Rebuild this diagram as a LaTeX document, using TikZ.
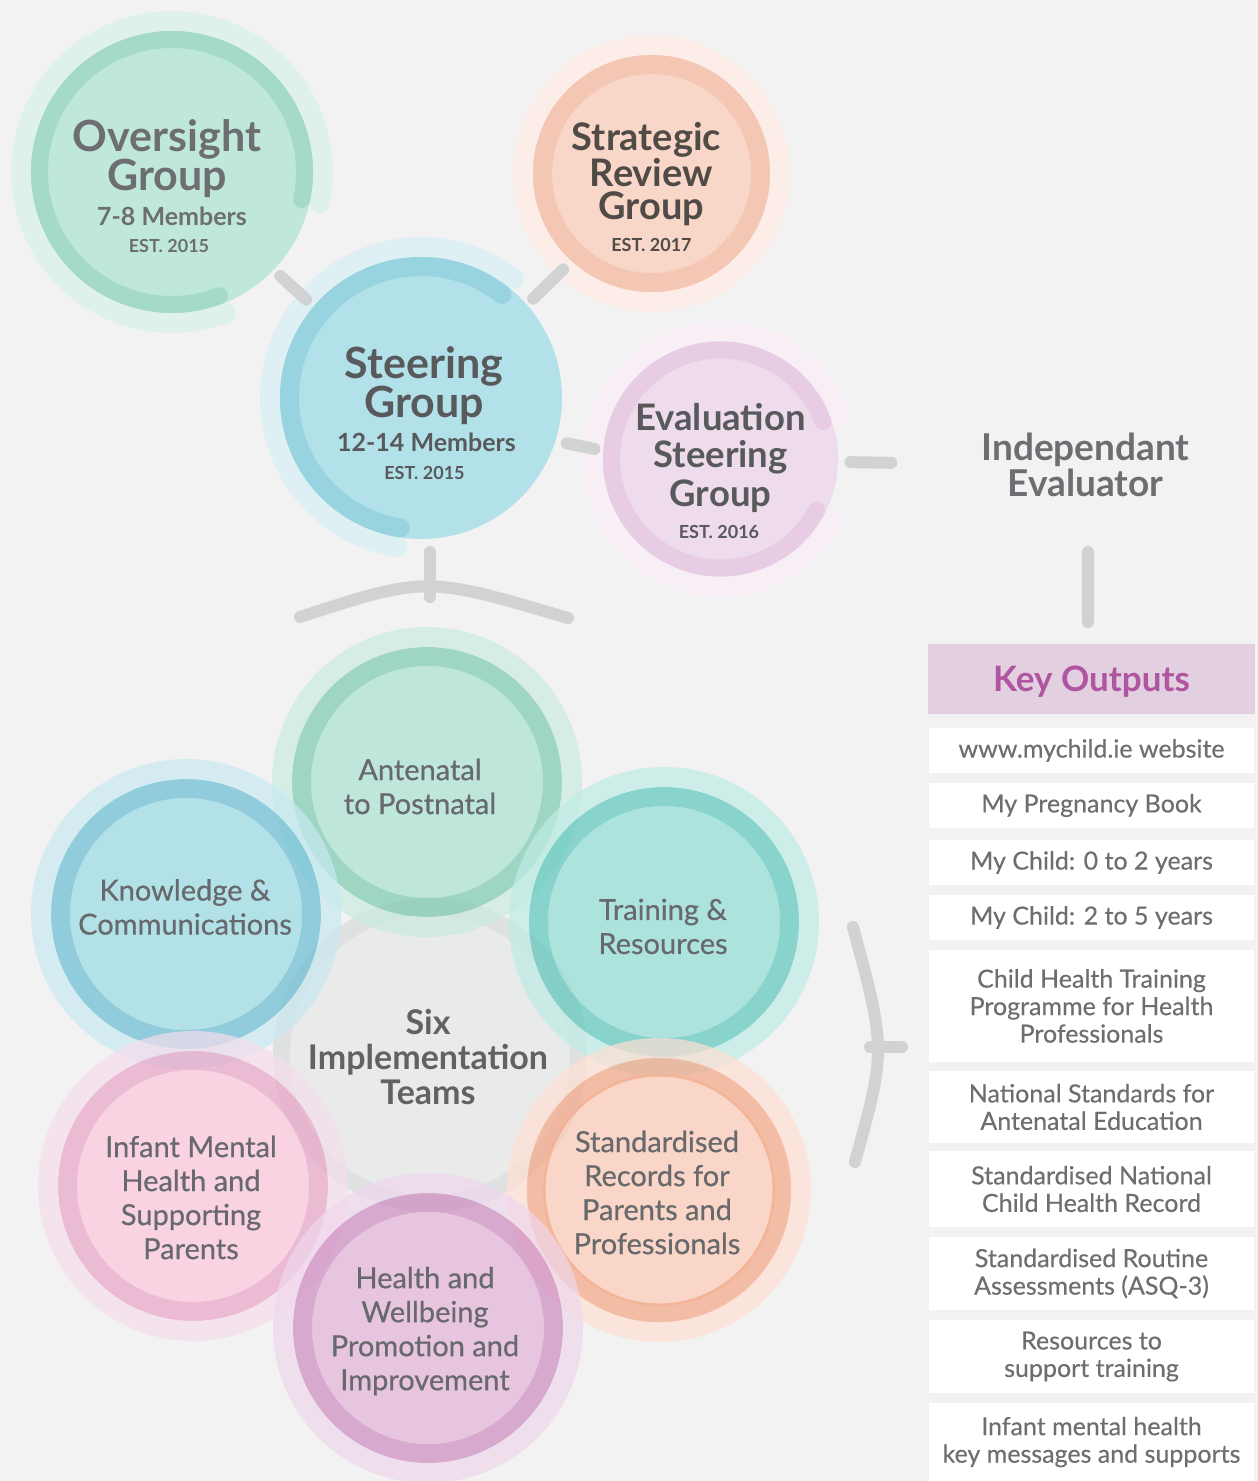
\documentclass[tikz,border=0pt]{standalone}
\usepackage{fontspec}
\setmainfont{Lato}
\newfontfamily\teamfont{Lato}[FakeBold=0.5]
\newfontfamily\listfont{Lato}[FakeBold=0.3]
\usetikzlibrary{positioning,calc,backgrounds}

% page and text colours
\definecolor{pagebg}{HTML}{F2F2F2}
\definecolor{linkgray}{HTML}{D1D2D4}
\definecolor{textgray}{HTML}{6D6E71}
\definecolor{teamText}{HTML}{68696C}
\definecolor{sixText}{HTML}{616264}
\definecolor{overText}{HTML}{6D6E71}
\definecolor{steerText}{HTML}{58595B}
\definecolor{stratText}{HTML}{514B48}
\definecolor{evalText}{HTML}{58595B}
\definecolor{keypurple}{HTML}{B0559F}
\definecolor{keyfill}{HTML}{E2CFE0}

% group circles
\definecolor{overHalo}{HTML}{DFF2EA}
\definecolor{overRing}{HTML}{A6DAC8}
\definecolor{overFill}{HTML}{C0E8DA}
\definecolor{stratHalo}{HTML}{FCEDE8}
\definecolor{stratRing}{HTML}{F4C6B4}
\definecolor{stratFill}{HTML}{F8D7C9}
\definecolor{steerHalo}{HTML}{DFF0F4}
\definecolor{steerRing}{HTML}{98D4E0}
\definecolor{steerFill}{HTML}{B2E1E9}
\definecolor{evalHalo}{HTML}{F7EFF5}
\definecolor{evalRing}{HTML}{E7CCE4}
\definecolor{evalFill}{HTML}{EEDBEC}

% team circles (drawn with opacity 0.7)
\definecolor{anteHalo}{HTML}{C9EBDF}
\definecolor{anteRing}{HTML}{7DCAB0}
\definecolor{anteFill}{HTML}{A8E1D0}
\definecolor{knowHalo}{HTML}{C7E9F1}
\definecolor{knowRing}{HTML}{69BDD3}
\definecolor{knowFill}{HTML}{97DBE5}
\definecolor{trainHalo}{HTML}{BDEBE5}
\definecolor{trainRing}{HTML}{5CC6BC}
\definecolor{trainFill}{HTML}{8FDDD5}
\definecolor{infHalo}{HTML}{F5DEEC}
\definecolor{infRing}{HTML}{E9A3C7}
\definecolor{infFill}{HTML}{FCC7DB}
\definecolor{recHalo}{HTML}{FFDFD4}
\definecolor{recRing}{HTML}{F3A685}
\definecolor{recFill}{HTML}{FCCBB5}
\definecolor{hlthHalo}{HTML}{EFD7EC}
\definecolor{hlthRing}{HTML}{CD8BC1}
\definecolor{hlthFill}{HTML}{E4B3D8}
\definecolor{sixHalo}{HTML}{D8DADB}
\definecolor{sixFill}{HTML}{E6E7E7}

\begin{document}
\begin{tikzpicture}[x=1pt, y=1pt,
    link/.style={draw=linkgray, line width=12pt, line cap=round},
    grp/.style={circle, inner sep=0pt, outer sep=0pt},
    grptitle/.style={font=\fontsize{#1}{#1}\selectfont\bfseries, text height=0pt, text depth=0pt, inner sep=0pt},
    grptitle/.default=42,
    halo/.style={line width=20pt, line cap=round},
    ringarc/.style={line width=#1, line cap=round},
    ringarc/.default=17pt,
    team/.style={circle, inner sep=0pt, outer sep=0pt, minimum size=232pt, fill opacity=0.7},
    teamtext/.style={text=teamText, text opacity=1, fill opacity=1, align=center, font=\teamfont\fontsize{29}{34}\selectfont},
    teamring/.style={line width=19pt, draw opacity=0.7},
    teamhalo/.style={line width=20pt, draw opacity=0.7},
    outbox/.style={rectangle, fill=white, minimum width=325pt, inner sep=0pt, outer sep=0pt, text=textgray, align=center, font=\listfont\fontsize{25}{27.5}\selectfont},
    node distance=10pt]

        \useasboundingbox (0,0) rectangle (1258,-1481);

        %-----Groups-----

        % Oversight Group
        \node[grp, fill=overFill, minimum size=282pt,
            label={[grptitle=43, text=overText, xshift=-5pt, yshift=20.5pt]center:Oversight},
            label={[grptitle=43, text=overText, xshift=-5pt, yshift=-18pt]center:Group},
            label={[grptitle=25, text=overText, yshift=-53pt]center:7-8 Members},
            label={[grptitle=18, text=overText, xshift=-3pt, yshift=-80pt]center:EST. 2015}] (over) at (172,-172) {};
        \draw[ringarc, draw=overRing] ([shift={(-12:132.5)}]over.center) arc[start angle=-12, end angle=291, radius=132.5pt];

        % Strategic Review Group
        \node[grp, fill=stratFill, minimum size=237pt,
            label={[grptitle=38, text=stratText, xshift=-5pt, yshift=23.5pt]center:Strategic},
            label={[grptitle=38, text=stratText, yshift=-12.5pt]center:Review},
            label={[grptitle=38, text=stratText, yshift=-46pt]center:Group},
            label={[grptitle=18, text=stratText, yshift=-78pt]center:EST. 2017}] (strat) at (651.5,-173.5) {};
        \draw[ringarc=19pt, draw=stratRing] (strat.center) circle[radius=109pt];

        % Steering Group
        \node[grp, fill=steerFill, minimum size=282pt,
            label={[grptitle=43, text=steerText, xshift=3pt, yshift=19.5pt]center:Steering},
            label={[grptitle=43, text=steerText, xshift=3pt, yshift=-19pt]center:Group},
            label={[grptitle=25, text=steerText, xshift=5.5pt, yshift=-53pt]center:12-14 Members},
            label={[grptitle=18, text=steerText, xshift=3.5pt, yshift=-81.3pt]center:EST. 2015}] (steer) at (421,-398) {};
        \draw[ringarc=19pt, draw=steerRing] ([shift={(52:131.5)}]steer.center) arc[start angle=52, end angle=261, radius=131.5pt];

        % Evaluation Steering Group
        \node[grp, fill=evalFill, minimum size=235pt,
            label={[grptitle=36.5, text=evalText, yshift=29pt]center:Evaluation},
            label={[grptitle=36.5, text=evalText, yshift=-8.5pt]center:Steering},
            label={[grptitle=36.5, text=evalText, yshift=-47pt]center:Group},
            label={[grptitle=18, text=evalText, xshift=-1.5pt, yshift=-79.3pt]center:EST. 2016}] (eval) at (720.5,-459) {};
        \draw[ringarc, draw=evalRing] ([shift={(20:109)}]eval.center) arc[start angle=20, end angle=332, radius=109pt];

        % Independant Evaluator
        \node[align=center, inner sep=0pt, text=textgray, font=\fontsize{37}{36.7}\selectfont\bfseries] (indep) at (1085.5,-465) {Independant\\Evaluator};

        % halos behind the groups
        \begin{scope}[on background layer]
            \fill[pagebg] (0,0) rectangle (1258,-1481);
            \draw[halo, draw=overHalo] ([shift={(-12:151)}]over.center) arc[start angle=-12, end angle=291, radius=151pt];
            \draw[halo, draw=stratHalo] (strat.center) circle[radius=128.5pt];
            \draw[halo, draw=steerHalo] ([shift={(52:151)}]steer.center) arc[start angle=52, end angle=261, radius=151pt];
            \draw[halo, draw=evalHalo] ([shift={(20:128)}]eval.center) arc[start angle=20, end angle=332, radius=128pt];
        \end{scope}

        %-----Implementation Teams-----

        % Six Implementation Teams
        \node[team, fill=sixFill, minimum size=280pt,
            label={[teamtext, text=sixText, font=\fontsize{34}{35}\selectfont\bfseries, xshift=-2pt, yshift=-2.5pt]center:{Six\\Implementation\\Teams}}] (six) at (430,-1055) {};
        \draw[teamring, line width=17pt, draw=sixHalo] (six.center) circle[radius=148.5pt];

        % Antenatal to Postnatal
        \node[team, fill=anteFill,
            label={[teamtext, xshift=-7pt, yshift=-4.5pt]center:{Antenatal\\to Postnatal}}] (ante) at (427,-782) {};
        \draw[teamring, draw=anteRing] (ante.center) circle[radius=125.5pt];
        \draw[teamhalo, draw=anteHalo] (ante.center) circle[radius=145pt];

        % Knowledge & Communications
        \node[team, fill=knowFill,
            label={[teamtext, xshift=-1pt, yshift=7pt]center:{Knowledge \&\\Communications}}] (know) at (186,-914) {};
        \draw[teamring, draw=knowRing] (know.center) circle[radius=125.5pt];
        \draw[teamhalo, draw=knowHalo] (know.center) circle[radius=145pt];

        % Training & Resources
        \node[team, fill=trainFill,
            label={[teamtext, xshift=-1pt, yshift=-4.5pt]center:{Training \&\\Resources}}] (train) at (664,-922) {};
        \draw[teamring, draw=trainRing] (train.center) circle[radius=125.5pt];
        \draw[teamhalo, draw=trainHalo] (train.center) circle[radius=145pt];

        % Infant Mental Health
        \node[team, fill=infFill,
            label={[teamtext, xshift=-2pt, yshift=-11.5pt]center:{Infant Mental\\Health and\\Supporting\\Parents}}] (infant) at (193,-1186) {};
        \draw[teamring, draw=infRing] (infant.center) circle[radius=125.5pt];
        \draw[teamhalo, draw=infHalo] (infant.center) circle[radius=145pt];

        % Standardised Records
        \node[team, fill=recFill,
            label={[teamtext, xshift=-2pt, yshift=-2.5pt]center:{Standardised\\Records for\\Parents and\\Professionals}}] (records) at (659,-1190) {};
        \draw[teamring, draw=recRing] (records.center) circle[radius=123pt];
        \draw[teamhalo, draw=recHalo] (records.center) circle[radius=142pt];

        % Health and Wellbeing
        \node[team, fill=hlthFill,
            label={[teamtext, xshift=-3pt, yshift=-3pt]center:{Health and\\Wellbeing\\Promotion and\\Improvement}}] (health) at (428,-1328) {};
        \draw[teamring, draw=hlthRing] (health.center) circle[radius=125.5pt];
        \draw[teamhalo, draw=hlthHalo] (health.center) circle[radius=145pt];

        %-----Key Outputs-----
        \node[rectangle, fill=keyfill, minimum width=327pt, minimum height=70pt, inner sep=0pt, outer sep=0pt, text depth=0pt, text=keypurple, font=\fontsize{35}{35}\selectfont\bfseries] (keyhead) at (1091.5,-679) {Key Outputs};
        \node[outbox, minimum height=45pt, below=14pt of keyhead] (o1) {www.mychild.ie website};
        \node[outbox, minimum height=45pt, below=of o1] (o2) {My Pregnancy Book};
        \node[outbox, minimum height=45pt, below=12pt of o2] (o3) {My Child: 0 to 2 years};
        \node[outbox, minimum height=45pt, below=of o3] (o4) {My Child: 2 to 5 years};
        \node[outbox, minimum height=112pt, below=of o4] (o5) {Child Health Training\\Programme for Health\\Professionals};
        \node[outbox, minimum height=72pt, below=9pt of o5] (o6) {National Standards for\\Antenatal Education};
        \node[outbox, minimum height=76pt, below=8pt of o6] (o7) {Standardised National\\Child Health Record};
        \node[outbox, minimum height=73pt, below=of o7] (o8) {Standardised Routine\\Assessments (ASQ-3)};
        \node[outbox, minimum height=73pt, below=of o8] (o9) {Resources to\\support training};
        \node[outbox, minimum height=78pt, below=of o9] (o10) {Infant mental health\\key messages and supports};

        %-----Connectors-----

        % Oversight to Steering
        \draw[link] ($(over.center)!0.447!(steer.center)+(-3,-3)$) -- ($(over.center)!0.551!(steer.center)+(-3,-3)$);

        % Strategic Review to Steering
        \draw[link] ($(strat.center)!0.405!(steer.center)+(5,-5)$) -- ($(strat.center)!0.535!(steer.center)+(5,-5)$);

        % Steering to Evaluation
        \draw[link] ($(steer.center)!0.497!(eval.center)+(-3,-15)$) -- ($(steer.center)!0.589!(eval.center)+(-3,-15)$);

        % Evaluation to Independant Evaluator
        \draw[link] ($(eval.center)!0.356!(indep.center)+(0,-1)$) -- ($(eval.center)!0.468!(indep.center)+(0,-1)$);

        % Independant Evaluator to Key Outputs
        \draw[link] ($(indep.center)!0.4065!(keyhead.center)$) -- ++(0,-70);

        % Steering to the teams
        \coordinate (tbL) at (300,-617);
        \coordinate (tbR) at (568,-618);
        \draw[link] ([xshift=9pt,yshift=-13pt]steer.south) -- ++(0,-45);
        \draw[link] (tbL) .. controls (426,-576) .. (tbR);

        % Teams to Key Outputs
        \coordinate (rbT) at (853,-927);
        \coordinate (rbB) at (855,-1162);
        \coordinate (rbM) at (870,-1047);
        \draw[link] (rbT) .. controls (886,-1049.5) .. (rbB);
        \draw[link] (rbM) -- ++(32,0);

\end{tikzpicture}
\end{document}
